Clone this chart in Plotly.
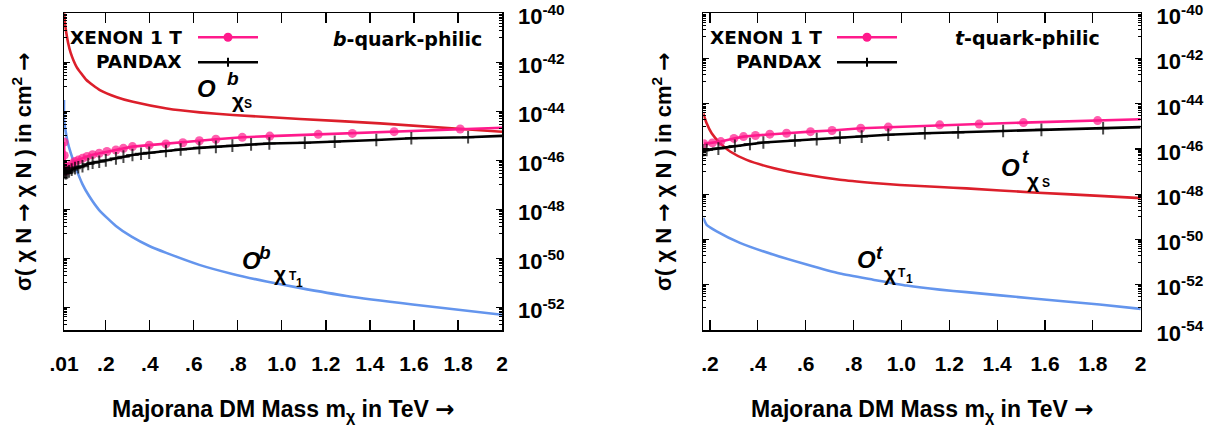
import numpy as np
import plotly.graph_objects as go

W, H = 1219, 433
FONT = "Liberation Sans, Arial, sans-serif"
WIDE = "DejaVu Sans, Liberation Sans, sans-serif"
RED = "#dc1f2b"
BLUE = "#6495ed"
PINK = "#ff1a8c"
BLACK = "#000000"

# ---------------- b-quark-philic panel (log10 of sigma in cm^2) ----------------
b_red_x = [0.010, 0.012, 0.015, 0.020, 0.029, 0.040, 0.067, 0.112, 0.173, 0.250, 0.323, 0.477,
           0.627, 0.777, 1.082, 1.446, 2.000]
b_red_log = [-39.93, -40.15, -40.43, -40.77, -41.22, -41.60, -42.18, -42.72, -43.13, -43.42, -43.61,
             -43.88, -44.04, -44.15, -44.31, -44.49, -44.83]

b_blue_x = [0.0100, 0.0105, 0.0182, 0.0255, 0.0409, 0.0637, 0.0937, 0.1242, 0.1697, 0.2457, 0.3189,
            0.3973, 0.4747, 0.6248, 0.7750, 0.9297, 1.0799, 1.2938, 1.5941, 2.0000]
b_blue_log = [-43.54, -44.36, -44.85, -45.21, -45.71, -46.31, -46.97, -47.46, -48.03, -48.68, -49.13,
              -49.50, -49.78, -50.27, -50.64, -50.95, -51.21, -51.54, -51.89, -52.31]

b_xenon_x = [0.010, 0.011, 0.012, 0.014, 0.017, 0.020, 0.025, 0.033, 0.045, 0.060, 0.075, 0.094,
             0.115, 0.140, 0.170, 0.205, 0.246, 0.280, 0.321, 0.397, 0.473, 0.550, 0.625, 0.700,
             0.820, 0.945, 1.165, 1.320, 1.510, 1.810, 2.000]
b_xenon_log = [-45.25, -45.80, -46.20, -46.42, -46.45, -46.42, -46.35, -46.26, -46.15, -46.05, -45.99,
               -45.92, -45.84, -45.77, -45.71, -45.64, -45.58, -45.51, -45.44, -45.38, -45.33, -45.28,
               -45.20, -45.14, -45.06, -45.01, -44.94, -44.90, -44.83, -44.72, -44.67]

b_pandax_x = [0.010, 0.012, 0.015, 0.020, 0.025, 0.033, 0.045, 0.060, 0.075, 0.094, 0.120, 0.140,
              0.170, 0.200, 0.246, 0.280, 0.321, 0.360, 0.397, 0.473, 0.540, 0.625, 0.700, 0.775,
              0.860, 0.943, 1.104, 1.240, 1.429, 1.588, 1.846, 2.000]
b_pandax_log = [-46.30, -46.45, -46.52, -46.53, -46.50, -46.45, -46.38, -46.32, -46.28, -46.24, -46.15,
                -46.10, -46.06, -46.00, -45.92, -45.85, -45.78, -45.73, -45.69, -45.62, -45.56, -45.49,
                -45.45, -45.40, -45.35, -45.31, -45.28, -45.24, -45.17, -45.10, -45.06, -45.00]

# ---------------- t-quark-philic panel ----------------
t_red_x = [0.172, 0.186, 0.207, 0.242, 0.284, 0.353, 0.464, 0.604, 0.743, 0.882, 0.994, 1.160,
           1.272, 1.550, 1.828, 2.000]
t_red_log = [-44.42, -44.86, -45.30, -45.74, -46.11, -46.48, -46.84, -47.14, -47.36, -47.50, -47.59,
             -47.68, -47.74, -47.92, -48.07, -48.17]

t_blue_x = [0.172, 0.186, 0.228, 0.325, 0.464, 0.604, 0.743, 0.882, 1.022, 1.160, 1.272, 1.550,
            1.828, 2.000]
t_blue_log = [-49.05, -49.35, -49.64, -50.15, -50.67, -51.11, -51.51, -51.78, -52.04, -52.22, -52.33,
              -52.61, -52.88, -53.07]

t_xenon_x = [0.175, 0.210, 0.245, 0.300, 0.340, 0.390, 0.450, 0.520, 0.620, 0.710, 0.830, 0.945,
             1.160, 1.325, 1.510, 1.820, 2.000]
t_xenon_log = [-45.77, -45.73, -45.67, -45.53, -45.45, -45.40, -45.34, -45.30, -45.23, -45.18, -45.08,
               -45.03, -44.93, -44.89, -44.83, -44.74, -44.68]

t_pandax_x = [0.172, 0.186, 0.235, 0.304, 0.367, 0.423, 0.555, 0.646, 0.743, 0.834, 0.945, 1.098,
              1.237, 1.425, 1.585, 1.843, 2.000]
t_pandax_log = [-46.06, -46.04, -45.98, -45.86, -45.78, -45.71, -45.62, -45.56, -45.49, -45.45, -45.37,
                -45.30, -45.27, -45.20, -45.15, -45.08, -45.03]

# ---------------- axes ticks ----------------
b_xticks = [0.01, 0.2, 0.4, 0.6, 0.8, 1.0, 1.2, 1.4, 1.6, 1.8, 2.0]
b_xticktext = [".01", ".2", ".4", ".6", ".8", "1.0", "1.2", "1.4", "1.6", "1.8", "2"]
t_xticks = [0.2, 0.4, 0.6, 0.8, 1.0, 1.2, 1.4, 1.6, 1.8, 2.0]
t_xticktext = [".2", ".4", ".6", ".8", "1.0", "1.2", "1.4", "1.6", "1.8", "2"]
b_yexp = [-40, -42, -44, -46, -48, -50, -52]
t_yexp = [-40, -42, -44, -46, -48, -50, -52, -54]


def fx(p):
    return p / W


def fy(p):
    return 1 - p / H


def ymaj(exps):
    return [10.0 ** e for e in exps]


def ymin(exps, lo):
    vals = []
    for e in exps:
        for m in range(2, 10):
            v = m * 10.0 ** (e - 1)
            if np.log10(v) > lo:
                vals.append(v)
        v = 10.0 ** (e - 1)
        if np.log10(v) > lo:
            vals.append(v)
    return vals


fig = go.Figure()


def line_trace(x, lg, color, xa, ya, shape="spline"):
    fig.add_trace(go.Scatter(x=x, y=np.power(10.0, lg), mode="lines",
                             line=dict(color=color, width=2.6, shape=shape, smoothing=0.5),
                             xaxis=xa, yaxis=ya, showlegend=False, hoverinfo="skip"))


def marker_trace(x, lg, color, symbol, size, xa, ya):
    sizes = [size] * (len(x) - 1) + [0]
    if symbol == "circle":
        mk = dict(symbol="circle", size=sizes, color=color, line=dict(width=0))
    else:
        mk = dict(symbol="cross-thin", size=sizes, color=color, line=dict(width=2, color=color))
    fig.add_trace(go.Scatter(x=x, y=np.power(10.0, lg), mode="lines+markers",
                             line=dict(color=color, width=2.6), marker=mk,
                             xaxis=xa, yaxis=ya, showlegend=False, hoverinfo="skip"))


# left panel
line_trace(b_blue_x, b_blue_log, BLUE, "x", "y")
line_trace(b_red_x, b_red_log, RED, "x", "y")
marker_trace(b_xenon_x, b_xenon_log, PINK, "circle", 9, "x", "y")
marker_trace(b_pandax_x, b_pandax_log, BLACK, "cross", 9, "x", "y")
# right panel
line_trace(t_blue_x, t_blue_log, BLUE, "x2", "y2")
line_trace(t_red_x, t_red_log, RED, "x2", "y2")
marker_trace(t_xenon_x, t_xenon_log, PINK, "circle", 9, "x2", "y2")
marker_trace(t_pandax_x, t_pandax_log, BLACK, "cross", 9, "x2", "y2")

ydom = [fy(330), fy(13.3)]
tickfont_x = dict(family=FONT, size=21, color="black", weight="bold")
tickfont_y = dict(family=FONT, size=22, color="black", weight="bold")


def xaxis_cfg(dom, rng, tv, tt, anchor):
    return dict(domain=dom, range=rng, anchor=anchor, tickmode="array", tickvals=tv, ticktext=tt,
                ticks="inside", ticklen=10, tickwidth=1.2, tickcolor="black", mirror="ticks",
                showline=True, linecolor="black", linewidth=1.5, showgrid=False, zeroline=False,
                tickfont=tickfont_x, ticklabelstandoff=14, automargin=False,
                ticklabeloverflow="allow")


def yaxis_cfg(rng, exps, anchor):
    return dict(domain=ydom, type="log", range=rng, anchor=anchor, side="right", tickmode="array",
                tickvals=ymaj(exps), ticktext=["10<sup>%d</sup>" % e for e in exps],
                ticks="inside", ticklen=6, tickwidth=1.2, tickcolor="black", mirror="ticks",
                showline=True, linecolor="black", linewidth=1.5, showgrid=False, zeroline=False,
                tickfont=tickfont_y, ticklabelstandoff=10, ticklabelshift=3, automargin=False,
                ticklabeloverflow="allow",
                minor=dict(tickmode="array", tickvals=ymin(exps, rng[0]), ticks="inside", ticklen=3,
                           tickwidth=1, tickcolor="black", showgrid=False))


fig.update_layout(
    width=W, height=H, autosize=False,
    margin=dict(l=0, r=0, t=0, b=0, pad=0, autoexpand=False),
    paper_bgcolor="white", plot_bgcolor="white", showlegend=False,
    xaxis=xaxis_cfg([fx(64.0), fx(502.0)], [0.01, 2.0], b_xticks, b_xticktext, "y"),
    yaxis=yaxis_cfg([-52.93, -39.995], b_yexp, "x"),
    xaxis2=xaxis_cfg([fx(703.3), fx(1140.7)], [0.172, 2.0], t_xticks, t_xticktext, "y2"),
    yaxis2=yaxis_cfg([-54.005, -39.995], t_yexp, "x2"),
)

ann = []
shapes = []


def text(x, y, s, size, xanchor="center", yanchor="middle", italic=False, angle=0, family=FONT):
    ann.append(dict(x=fx(x), y=fy(y), xref="paper", yref="paper", text=s, showarrow=False,
                    xanchor=xanchor, yanchor=yanchor, textangle=angle,
                    font=dict(family=family, size=size, color="black", weight="bold",
                              style="italic" if italic else "normal")))


ARROW = "<span style='font-family:DejaVu Sans'>→</span>"

# axis titles
for cx in (283, 922):
    text(cx, 410, "Majorana DM Mass m<sub>χ</sub> in TeV " + ARROW, 23)
for cx in (22, 662):
    text(cx, 172, "σ( χ N " + ARROW + " χ N ) in cm<sup>2</sup> " + ARROW, 22, angle=-90)

# panel labels
text(484, 38.5, "<i>b</i>-quark-philic", 19, xanchor="right", family=WIDE)
text(1102, 38, "<i>t</i>-quark-philic", 19, xanchor="right", family=WIDE)

# legends
for (x0, xr) in ((198, 184), (837, 824)):
    text(xr, 38, "XENON 1 T", 18.5, xanchor="right", family=WIDE)
    text(xr, 62, "PANDAX", 18.5, xanchor="right", family=WIDE)
    shapes.append(dict(type="line", xref="paper", yref="paper", x0=fx(x0), x1=fx(x0 + 60),
                       y0=fy(37.3), y1=fy(37.3), line=dict(color=PINK, width=2.6)))
    shapes.append(dict(type="circle", xref="paper", yref="paper", x0=fx(x0 + 30 - 4.5),
                       x1=fx(x0 + 30 + 4.5), y0=fy(37.3 - 4.5), y1=fy(37.3 + 4.5),
                       fillcolor=PINK, line=dict(color=PINK, width=0)))
    shapes.append(dict(type="line", xref="paper", yref="paper", x0=fx(x0), x1=fx(x0 + 60),
                       y0=fy(62.3), y1=fy(62.3), line=dict(color=BLACK, width=2.6)))
    shapes.append(dict(type="line", xref="paper", yref="paper", x0=fx(x0 + 30), x1=fx(x0 + 30),
                       y0=fy(62.3 - 4.5), y1=fy(62.3 + 4.5), line=dict(color=BLACK, width=2)))

# operator labels
# O^b_{chi_S}
text(206, 88, "O", 24, italic=True)
text(233, 79, "b", 19, italic=True)
text(237.5, 101, "χ", 21)
text(248, 104.5, "S", 12)
# O^b_{chi_T1}
text(251.5, 260, "O", 24, italic=True)
text(265, 252, "b", 19, italic=True)
text(280, 273, "χ", 21)
text(292.5, 276, "T", 12)
text(299, 283, "1", 12)
# O^t_{chi_S}
text(1010.5, 167.5, "O", 24, italic=True)
text(1025, 156, "t", 19, italic=True)
text(1033, 180, "χ", 21)
text(1046, 183, "S", 12)
# O^t_{chi_T1}
text(866, 259, "O", 24, italic=True)
text(879, 252, "t", 19, italic=True)
text(889.5, 273, "χ", 21)
text(901.5, 273, "T", 12)
text(909, 279, "1", 12)

fig.update_layout(annotations=ann, shapes=shapes)
fig.write_html("out.html", config={"displayModeBar": False, "staticPlot": True},
               post_script="document.body.style.margin='0px';")
